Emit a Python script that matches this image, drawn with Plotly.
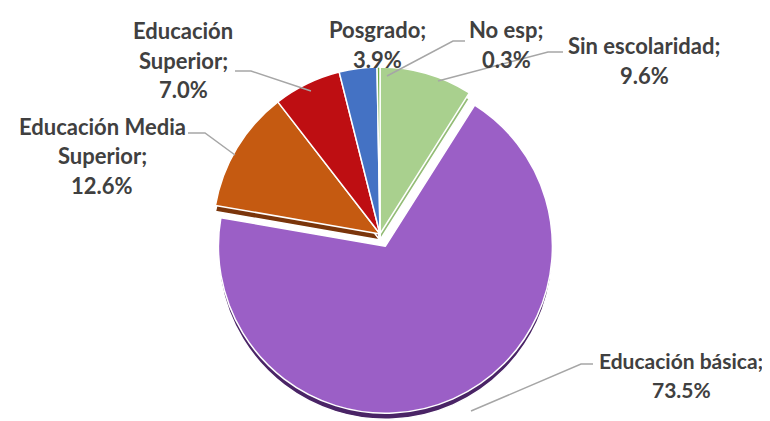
import plotly.graph_objects as go

# ---- data ----
labels = ["Sin escolaridad", "Educación básica", "Educación Media Superior",
          "Educación Superior", "Posgrado", "No esp"]
values = [9.6, 73.5, 12.6, 7.0, 3.9, 0.3]
pct_text = ["9.6%", "73.5%", "12.6%", "7.0%", "3.9%", "0.3%"]
label_lines = [["Sin escolaridad;"], ["Educación básica;"], ["Educación Media", "Superior;"],
               ["Educación", "Superior;"], ["Posgrado;"], ["No esp;"]]

# ---- style ----
W, H = 770, 421
top_colors = ["#A9D08E", "#9B5FC6", "#C55A11", "#BE0E12", "#4472C4", "#70AD47"]
side_colors = ["#93BC76", "#4A2466", "#7A350B", "#5E0000", "#2A4A85", "#4E7A30"]
pulls = [0, 0.08, 0, 0, 0, 0]

R = 167
cx, cy = 372, 226
depth = 6
half_w = R * 2 * (1 + max(pulls)) / 2


def dom(cx_px, cy_px):
    x0 = (cx_px - half_w) / W
    x1 = (cx_px + half_w) / W
    yc = 1 - cy_px / H
    hh = half_w / H
    return dict(x=[x0, x1], y=[max(0.0, yc - hh), min(1.0, yc + hh)])


fig = go.Figure()
common = dict(labels=labels, values=values, sort=False, direction="clockwise",
              rotation=0, textinfo="none", hoverinfo="label+percent", pull=pulls,
              showlegend=False)
fig.add_trace(go.Pie(**common, domain=dom(cx, cy + depth),
                     marker=dict(colors=side_colors, line=dict(color="white", width=1.5))))
fig.add_trace(go.Pie(**common, domain=dom(cx, cy),
                     marker=dict(colors=top_colors, line=dict(color="white", width=1.5))))

# label layout (pixel positions): center x, first line center y, font size
label_pos = [(636, 38, 22), (673, 352, 21), (94, 118, 22), (175, 23, 22),
             (369, 22, 22), (498, 22, 22)]
line_h = 29.5
leaders = [
    [(555, 44), (540, 44), (430, 73)],
    [(585, 356), (573, 356), (463, 403)],
    [(180, 125), (197, 125), (227, 147)],
    [(227, 63), (243, 63), (303, 83)],
    None,
    [(457, 33), (445, 33), (379, 68)],
]

annotations = []
for lines, pct, (lx, ly, fs) in zip(label_lines, pct_text, label_pos):
    for i, t in enumerate(lines + [pct]):
        annotations.append(dict(
            x=lx / W, y=1 - (ly + i * line_h) / H, xref="paper", yref="paper",
            text=t, showarrow=False, xanchor="center", yanchor="middle",
            font=dict(family="Lato", size=fs, color="#404040", weight="bold")))

shapes = []
for pts in leaders:
    if not pts:
        continue
    path = "M " + " L ".join(f"{x / W},{1 - y / H}" for x, y in pts)
    shapes.append(dict(type="path", path=path, xref="paper", yref="paper",
                       line=dict(color="#A6A6A6", width=1.5)))

fig.update_layout(width=W, height=H, margin=dict(l=0, r=0, t=0, b=0),
                  paper_bgcolor="white", plot_bgcolor="white",
                  annotations=annotations, shapes=shapes)
fig.write_html("out.html")
